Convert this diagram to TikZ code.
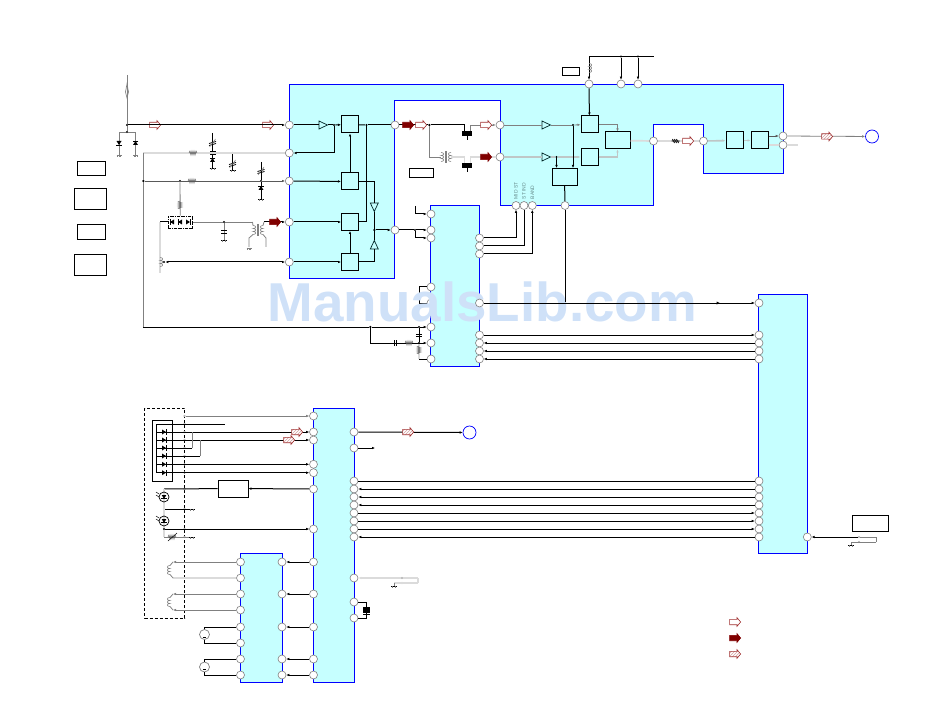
\documentclass[tikz,border=0pt]{standalone}
\usepackage{fontspec}
\setmainfont{Liberation Sans}
\usetikzlibrary{arrows.meta,shapes.geometric,shapes.arrows,patterns}
\definecolor{icfill}{HTML}{C6FFFF}
\definecolor{markfill}{HTML}{CFE1F8}
\definecolor{sigred}{HTML}{A03030}
\definecolor{darkred}{HTML}{800000}
\tikzset{
  chip/.style={draw=blue,fill=icfill,line width=1pt},
  pin/.style={circle,draw=gray,fill=white,line width=.6pt,minimum size=8pt,inner sep=0pt},
  ring/.style={circle,draw=blue,fill=white,line width=.7pt,minimum size=13pt,inner sep=0pt},
  blk/.style={draw=black,fill=icfill,line width=1pt,minimum width=17pt,minimum height=17pt,inner sep=0pt},
  wideblk/.style={blk,minimum width=25pt},
  lbl/.style={draw=black,fill=white,line width=.8pt,inner sep=0pt},
  jn/.style={circle,fill=black,minimum size=2.4pt,inner sep=0pt},
  tap/.style={circle,draw=gray,fill=white,line width=.3pt,minimum size=2pt,inner sep=0pt},
  tri/.style={isosceles triangle,isosceles triangle stretches,draw=black!70!teal,fill=icfill,line width=.7pt,
    minimum width=8pt,minimum height=8.5pt,inner sep=0pt},
  wline/.style={draw=black,line width=1pt},
  gline/.style={draw=gray,line width=.8pt},
  dline/.style={draw=black!65,line width=.9pt},
  lline/.style={draw=black!14,line width=1.7pt},
  pline/.style={draw=teal!25!black!25,line width=1.6pt},
  hollow/.style={single arrow,draw=sigred,fill=white,line width=.6pt,minimum height=11pt,minimum width=8pt,
    single arrow head extend=1.6pt,single arrow tip angle=100,inner xsep=0pt,inner ysep=2.4pt},
  solidarrow/.style={hollow,draw=darkred,fill=darkred},
  hatched/.style={hollow,preaction={fill=white},fill=none,pattern=north east lines,pattern color=sigred!45},
  pintext/.style={rotate=90,anchor=west,inner sep=0pt,font=\fontsize{5}{5}\selectfont,text=teal!50!black!60},
  res/.pic={\draw[black!65,line width=.5pt] (-4,0) -- (-3,-2) -- (-2,2) -- (-1,-2) -- (0,2) -- (1,-2) -- (2,2) -- (3,-2) -- (4,0);},
  hash/.pic={\draw[black,line width=.7pt] (-3,-2) -- (-1,2) (-1,-2) -- (1,2) (1,-2) -- (3,2) (-4,0) -- (4,0);},
  diode/.pic={\fill[black] (-2.5,-2) -- (2.5,-2) -- (0,2) -- cycle;\draw[black,line width=.8pt] (-2.8,2) -- (2.8,2);},
  gnd/.pic={\draw[gray,line width=.5pt] (-2.5,0) -- (2.5,0) (-1.5,0) -- (-1.5,2) (0,0) -- (0,2) (1.5,0) -- (1.5,2);},
  gndb/.pic={\draw[black,line width=.7pt] (-3,0) -- (3,0);\draw[gray,line width=.5pt] (-1.5,0) -- (-1.5,2) (1.5,0) -- (1.5,2);},
  cap/.pic={\draw[black,line width=.8pt] (-3,-1.1) -- (3,-1.1) (-3,1.1) -- (3,1.1);},
  trim/.pic={\draw[black,line width=.8pt] (-3.5,.5) -- (3.5,-1.5) (-3.5,2.5) -- (3.5,.5);\draw[gray,line width=.5pt] (-3,4) -- (3,-4) -- (2,-2);},
  coil/.pic={\draw[gray,line width=.6pt] (0,-4.5) .. controls (3.5,-4.5) and (3.5,-1.5) .. (0,-1.5)
    .. controls (3.5,-1.5) and (3.5,1.5) .. (0,1.5) .. controls (3.5,1.5) and (3.5,4.5) .. (0,4.5);},
  tran/.pic={\pic at (-5,0) {coil};\pic[xscale=-1] at (5,0) {coil};
    \draw[gray,line width=.5pt] (-.7,-6) -- (-.7,6) (.7,-6) -- (.7,6);},
  fet/.pic={\fill[black] (-5,-2.5) rectangle (5,2.5);\draw[black,line width=.7pt] (0,2.5) -- (0,7);},
  led/.pic={\draw[black,line width=.7pt] (0,0) circle (5);\pic[scale=.9] at (0,0) {diode};
    \draw[black,line width=.5pt] (-8,-5) -- (-5,-3) (-8,-2) -- (-5,0);},
  ant/.pic={\draw[gray,line width=.7pt] (-1.5,0) -- (0,-8) -- (1.5,0) -- (0,6) -- cycle;},
  tiptri/.pic={\fill[black] (-1.5,-1.5) -- (1.5,0) -- (-1.5,1.5) -- cycle;},
}
\begin{document}
\begin{tikzpicture}[x=1pt,y=-1pt,>={Latex[length=3pt,width=2.6pt]}]
  \useasboundingbox (0,0) rectangle (950,711);
  \draw[chip] (289.3,84.3) -- (783.3,84.3) -- (783.3,173.3) -- (703.3,173.3) -- (703.3,124.3) -- (653.3,124.3) -- (653.3,205.3)
    -- (500.3,205.3) -- (500.3,100.3) -- (394.3,100.3) -- (394.3,278.3) -- (289.3,278.3) -- cycle;
  \draw[chip] (430.3,205.3) rectangle (479.3,366);
  \draw[chip] (758.3,294) rectangle (807.3,553.3);
  \draw[chip] (313.3,408.3) rectangle (354.3,682.3);
  \draw[chip] (240.3,553.3) rectangle (282.7,682.3);
  \draw[black,line width=.8pt,densely dashed] (144.5,408) rectangle (184.5,618);
  \node[lbl,minimum width=28pt,minimum height=14pt] (note1) at (91,168) {};
  \node[lbl,minimum width=32pt,minimum height=21pt] (note2) at (90,198.5) {};
  \node[lbl,minimum width=28pt,minimum height=15pt] (note3) at (91,231.5) {};
  \node[lbl,minimum width=32pt,minimum height=21pt] (note4) at (90,264.5) {};
  \node[lbl,minimum width=17.5pt,minimum height=8pt] (note5) at (571,71) {};
  \node[lbl,minimum width=24pt,minimum height=9pt] (note6) at (421,172.5) {};
  \node[lbl,minimum width=36pt,minimum height=16pt] (note7) at (870,523) {};
  \node[lbl,minimum width=30pt,minimum height=17pt] (drv) at (233,488.5) {};
  \node[draw=black,line width=.8pt,minimum width=20pt,minimum height=60.5pt,inner sep=0pt] (sw) at (162.5,450.7) {};
  \node[draw=black,densely dashdotted,line width=.7pt,minimum width=24pt,minimum height=12pt,inner sep=0pt] (dbox) at (180.3,222) {};
  \node[pin] (a1) at (289.3,125) {};
  \node[pin] (a2) at (289.3,153) {};
  \node[pin] (a3) at (289.3,181) {};
  \node[pin] (a4) at (289.3,222) {};
  \node[pin] (a5) at (289.3,262) {};
  \node[pin] (a6) at (395,125) {};
  \node[pin] (a7) at (395,230) {};
  \node[pin] (a8) at (500,125) {};
  \node[pin] (a9) at (500,157) {};
  \node[pin] (a10) at (589,84) {};
  \node[pin] (a11) at (621,84) {};
  \node[pin] (a12) at (638,84) {};
  \node[pin] (a13) at (516,205.5) {};
  \node[pin] (a14) at (524,205.5) {};
  \node[pin] (a15) at (532.3,205.5) {};
  \node[pin] (a16) at (565,205.5) {};
  \node[pin] (a17) at (653.5,141) {};
  \node[pin] (a18) at (703.5,141) {};
  \node[pin] (a19) at (783,136) {};
  \node[pin] (a20) at (783,145) {};
  \node[pin] (b1) at (431,214) {};
  \node[pin] (b2) at (431,230) {};
  \node[pin] (b3) at (431,238) {};
  \node[pin] (b5) at (431,303) {};
  \node[pin] (b6) at (431,327) {};
  \node[pin] (b7) at (431,343) {};
  \node[pin] (b8) at (431,359) {};
  \node[pin] (b9) at (479.5,238) {};
  \node[pin] (b10) at (479.5,246) {};
  \node[pin] (b11) at (479.5,254) {};
  \node[pin] (b13) at (479.5,335) {};
  \node[pin] (b14) at (479.5,343) {};
  \node[pin] (b15) at (479.5,351) {};
  \node[pin] (b16) at (479.5,359) {};
  \node[pin] (c1) at (759,303) {};
  \node[pin] (c2) at (759,335) {};
  \node[pin] (c3) at (759,343) {};
  \node[pin] (c4) at (759,351) {};
  \node[pin] (c5) at (759,359) {};
  \node[pin] (c6) at (759,481) {};
  \node[pin] (c7) at (759,489) {};
  \node[pin] (c8) at (759,497) {};
  \node[pin] (c9) at (759,505) {};
  \node[pin] (c10) at (759,513) {};
  \node[pin] (c11) at (759,521) {};
  \node[pin] (c12) at (759,529) {};
  \node[pin] (c13) at (759,537) {};
  \node[pin] (c14) at (807.3,537) {};
  \node[pin] (d1) at (313.5,416) {};
  \node[pin] (d2) at (313.5,432) {};
  \node[pin] (d3) at (313.5,440) {};
  \node[pin] (d4) at (313.5,464.3) {};
  \node[pin] (d5) at (313.5,472.7) {};
  \node[pin] (d6) at (313.5,489) {};
  \node[pin] (d7) at (313.5,529) {};
  \node[pin] (d8) at (313.5,562) {};
  \node[pin] (d9) at (313.5,594) {};
  \node[pin] (d10) at (313.5,627) {};
  \node[pin] (d11) at (313.5,659) {};
  \node[pin] (d12) at (313.5,675) {};
  \node[pin] (d13) at (354,432) {};
  \node[pin] (d14) at (354,448) {};
  \node[pin] (d15) at (354,481) {};
  \node[pin] (d16) at (354,489) {};
  \node[pin] (d17) at (354,497) {};
  \node[pin] (d18) at (354,505) {};
  \node[pin] (d19) at (354,513) {};
  \node[pin] (d20) at (354,521) {};
  \node[pin] (d21) at (354,529) {};
  \node[pin] (d22) at (354,537) {};
  \node[pin] (d23) at (354,578) {};
  \node[pin] (d24) at (354,602) {};
  \node[pin] (d25) at (354,618) {};
  \node[pin] (e1) at (240.5,562) {};
  \node[pin] (e2) at (240.5,578) {};
  \node[pin] (e3) at (240.5,594) {};
  \node[pin] (e4) at (240.5,610) {};
  \node[pin] (e5) at (240.5,627) {};
  \node[pin] (e6) at (240.5,643) {};
  \node[pin] (e7) at (240.5,659) {};
  \node[pin] (e8) at (240.5,675) {};
  \node[pin] (e9) at (282,562) {};
  \node[pin] (e10) at (282,594) {};
  \node[pin] (e11) at (282,627) {};
  \node[pin] (e12) at (282,659) {};
  \node[pin] (e13) at (282,675) {};
  \node[ring] (out1) at (872,136.5) {};
  \node[ring] (out2) at (469.5,432.5) {};
  \node[blk] (m1) at (350,124.5) {};
  \node[blk] (m2) at (350,181.5) {};
  \node[blk] (m3) at (350,222) {};
  \node[blk] (m4) at (350,262) {};
  \node[blk] (m5) at (589.5,124.5) {};
  \node[blk] (m6) at (589.5,157) {};
  \node[wideblk] (m7) at (564.5,177) {};
  \node[wideblk] (m8) at (617.5,140.5) {};
  \node[blk] (m9) at (734.5,140.5) {};
  \node[blk] (m10) at (759.5,140.5) {};
  \node[tri] (t1) at (321.5,125) {};
  \node[tri,shape border rotate=-90] (t2) at (374.3,205.5) {};
  \node[tri,shape border rotate=90] (t3) at (374.3,246.5) {};
  \node[tri] (t4) at (544.5,125) {};
  \node[tri] (t5) at (544.5,157) {};
  \node[circle,draw=gray,fill=white,line width=.7pt,minimum size=10pt,inner sep=0pt] (lamp1) at (204.5,634.5) {};
  \node[circle,draw=gray,fill=white,line width=.7pt,minimum size=10pt,inner sep=0pt] (lamp2) at (204.5,667) {};
  \node[fill=black,minimum width=7pt,minimum height=5pt,inner sep=0pt] (xtal) at (366.5,610.5) {};
  \node[jn] (j1) at (127,125) {};
  \node[jn] (j2) at (127,132) {};
  \node[jn] (j3) at (143.3,181) {};
  \node[jn] (j4) at (212.5,153) {};
  \node[jn] (j5) at (232.5,153) {};
  \node[jn] (j6) at (180,181) {};
  \node[jn] (j7) at (261,181) {};
  \node[jn] (j8) at (224,222) {};
  \node[jn] (j9) at (164,262) {};
  \node[jn] (k1) at (334,125) {};
  \node[jn] (k2) at (366.5,125) {};
  \node[jn] (k3) at (374.3,230) {};
  \node[jn] (k4) at (429.3,125) {};
  \node[jn] (k5) at (573,125) {};
  \node[jn] (k6) at (556.5,157) {};
  \node[jn] (k7) at (565,303) {};
  \node[jn] (k8) at (621,56.5) {};
  \node[jn] (k9) at (638,56.5) {};
  \node[jn] (k10) at (415,230) {};
  \node[jn] (k11) at (370.3,327) {};
  \node[jn] (k12) at (419,327) {};
  \node[jn] (k13) at (419,343) {};
  \node[jn] (k14) at (164,509) {};
  \node[jn] (k15) at (164,529) {};
  \node[tap] (s1) at (184.5,416) {};
  \node[tap] (s2) at (184.5,424) {};
  \node[tap] (s3) at (184.5,432) {};
  \node[tap] (s4) at (184.5,440) {};
  \node[tap] (s5) at (184.5,448) {};
  \node[tap] (s6) at (184.5,456) {};
  \node[tap] (s7) at (184.5,464.3) {};
  \node[tap] (s8) at (184.5,472.7) {};
  \node[tap] (s9) at (184.5,489) {};
  \node[tap] (s10) at (184.5,509) {};
  \node[tap] (s11) at (184.5,529) {};
  \node[tap] (s12) at (184.5,537) {};
  \node[tap] (s13) at (402,578) {};
  \node[tap] (s14) at (402,583) {};
  \node[tap] (s15) at (859,537) {};
  \node[tap] (s16) at (859,542) {};
  \coordinate (anttop) at (127,75);
  \coordinate (q1) at (119,155);
  \coordinate (q2) at (135.5,155);
  \coordinate (q3) at (143.3,153);
  \coordinate (q4) at (143.3,327);
  \coordinate (q5) at (212.5,133);
  \coordinate (q6) at (212.5,168);
  \coordinate (q7) at (232.5,170);
  \coordinate (q8) at (261,162);
  \coordinate (q9) at (261,199);
  \coordinate (q10) at (160,222);
  \coordinate (q11) at (160,273);
  \coordinate (q13) at (224,240);
  \coordinate (q14) at (252.5,222);
  \coordinate (q15) at (264,222);
  \coordinate (q16) at (464.5,131);
  \coordinate (q17) at (470.5,131);
  \coordinate (q18) at (464.5,163);
  \coordinate (q19) at (470.5,163);
  \coordinate (q20) at (441,157);
  \coordinate (q21) at (451,157);
  \coordinate (q22) at (589,56.5);
  \coordinate (q23) at (654,56.5);
  \coordinate (q24) at (798,145);
  \coordinate (q25) at (415,206);
  \coordinate (q26) at (419,287);
  \coordinate (q27) at (419,303);
  \coordinate (q28) at (419,359);
  \coordinate (q29) at (225,424);
  \coordinate (q30) at (156,424);
  \coordinate (q31) at (156,472.7);
  \coordinate (q32) at (156,432);
  \coordinate (q33) at (156,440);
  \coordinate (q34) at (156,448);
  \coordinate (q35) at (156,456);
  \coordinate (q36) at (156,464.3);
  \coordinate (q37) at (192,432);
  \coordinate (q38) at (192,448);
  \coordinate (q39) at (200,440);
  \coordinate (q40) at (200,456);
  \coordinate (q41) at (164,489);
  \coordinate (q42) at (192,509);
  \coordinate (q43) at (164,537);
  \coordinate (q44) at (192,537);
  \coordinate (q45) at (173,562);
  \coordinate (q46) at (173,578);
  \coordinate (q47) at (173,594);
  \coordinate (q48) at (173,610);
  \coordinate (q49) at (375,448);
  \coordinate (q50) at (418,578);
  \coordinate (q51) at (418,583);
  \coordinate (q52) at (394,583);
  \coordinate (q53) at (394,586);
  \coordinate (q54) at (876,537);
  \coordinate (q55) at (876,542);
  \coordinate (q56) at (851,542);
  \coordinate (q57) at (851,545);
  \node[hollow] (sig1) at (154,125) {};
  \node[hollow] (sig2) at (267,125) {};
  \path (anttop) edge[gline] (j1);
  \path (j1) edge[gline] (j2);
  \draw[gline] (j2) -| (q1);
  \draw[gline] (j2) -| (q2);
  \path (j1) edge[wline,->] (a1);
  \path (a2) edge[lline] (q3);
  \path (q3) edge[gline] (j3);
  \path (j3) edge[gline] (q4);
  \path (q5) edge[wline] (j4);
  \path (j4) edge[wline] (q6);
  \path (j5) edge[wline] (q7);
  \path (q8) edge[wline] (j7);
  \path (j7) edge[wline] (q9);
  \path (j3) edge[dline,->] (a3);
  \path (j6) edge[gline] (dbox);
  \path (dbox) edge[wline] (q10);
  \path (q10) edge[lline] (q11);
  \path (dbox) edge[gline] (j8);
  \path (j8) edge[gline] (q14);
  \path (j8) edge[gline] (q13);
  \path (q15) edge[wline,->] (a4);
  \path (j9) edge[wline,<->] (a5);
  \path (a1) edge[wline] (t1);
  \path (t1) edge[wline] (k1);
  \path (k1) edge[wline,->] (m1);
  \draw[wline,->] (k1) |- (a2);
  \path (m1) edge[wline] (k2);
  \path (k2) edge[wline] (a6);
  \draw[wline] (k2) |- (m3);
  \path (m2) edge[wline,->] (m1);
  \path (a3) edge[wline,->] (m2);
  \path (a4) edge[wline,->] (m3);
  \path (a5) edge[wline,->] (m4);
  \draw[wline] (m2) -| (t2);
  \path (t2) edge[wline] (k3);
  \path (t3) edge[wline] (k3);
  \draw[wline] (m4) -| (t3);
  \path (m4) edge[wline,->] (m3);
  \path (k3) edge[wline,->] (a7);
  \path (a6) edge[wline] (k4);
  \draw[wline] (k4) -| (q16);
  \draw[gline,->] (q17) |- (a8);
  \draw[gline] (k4) |- (q20);
  \path (q21) edge[lline] (q18 |- q21);
  \draw[lline] (q18 |- q21) -- (q18);
  \draw[lline] (q19) |- (a9);
  \path (a8) edge[gline] (t4);
  \path (t4) edge[gline] (k5);
  \path (k5) edge[gline,->] (m5);
  \path (a9) edge[pline] (t5);
  \path (t5) edge[pline] (k6);
  \path (k6) edge[pline,->] (m6);
  \path (k5) edge[wline,->] (k5 |- m7.north);
  \path (k6) edge[wline,->] (k6 |- m7.north);
  \draw[gline,->] (m5) -| (m8);
  \draw[pline,->] (m6) -| (m8);
  \path (m8) edge[lline] (a17);
  \path (a17) edge[lline] (a18);
  \path (a18) edge[pline,->] (m9);
  \path (m9) edge[pline,->] (m10);
  \path (m10.east |- a19) edge[dline,->] (a19);
  \path (m10.east |- a20) edge[lline] (a20);
  \path (a19) edge[gline,->] (out1);
  \path (a20) edge[lline] (q24);
  \path (m7) edge[wline] (a16);
  \path (q22) edge[wline,->] (a10);
  \path (q22) edge[wline] (q23);
  \path (k8) edge[wline,->] (a11);
  \path (k9) edge[wline,->] (a12);
  \path (a10) edge[wline,->] (m5);
  \path (a7) edge[wline] (k10);
  \path (k10) edge[wline,->] (b2);
  \draw[wline,->] (k10) |- (b3);
  \draw[wline,->] (q25) |- (b1);
  \path (q26) edge[wline] (q27);
  \path (q27) edge[wline] (b5);
  \draw[wline,->] (b9) -| (a13);
  \draw[wline] (b10) -| (a14);
  \draw[wline,->] (b11) -| (a15);
  \path (q4) edge[wline] (k11);
  \path (k11) edge[wline] (k12);
  \path (k12) edge[wline,->] (b6);
  \draw[wline,->] (k11) |- (b7);
  \path (k12) edge[wline] (k13);
  \path (k13) edge[lline] (q28);
  \path (q28) edge[wline] (b8);
  \path (b13) edge[wline,->] (c2);
  \path (b14) edge[wline,<-] (c3);
  \path (b15) edge[wline,<-] (c4);
  \path (b16) edge[wline,<-] (c5);
  \path (d15) edge[wline] (c6);
  \path (d16) edge[wline,<-] (c7);
  \path (d17) edge[wline,<-] (c8);
  \path (d18) edge[wline,<-] (c9);
  \path (d19) edge[wline,->] (c10);
  \path (d20) edge[wline,->] (c11);
  \path (d21) edge[wline,->] (c12);
  \path (d22) edge[wline,<-] (c13);
  \path (c14) edge[wline,<-] (s15);
  \path (s15) edge[gline] (q54);
  \path (q54) edge[gline] (q55);
  \path (q55) edge[gline] (q56);
  \path (q56) edge[gline] (q57);
  \path (d13) edge[wline,->] (out2);
  \path (d14) edge[wline,->] (q49);
  \path (d23) edge[lline,<-] (s13);
  \path (s13) edge[lline] (q50);
  \path (q50) edge[lline] (q51);
  \path (q51) edge[lline] (q52);
  \path (q52) edge[gline] (q53);
  \draw[wline] (d24) -| (xtal);
  \draw[wline] (d25) -| (xtal);
  \path (s1) edge[gline,->] (d1);
  \path (q30) edge[wline] (q29);
  \path (q30) edge[wline] (q31);
  \path (q32) edge[wline,->] (d2);
  \path (q33) edge[wline,->] (d3);
  \path (q34) edge[wline] (q38);
  \path (q38) edge[gline] (q37);
  \path (q35) edge[wline] (q40);
  \path (q40) edge[gline] (q39);
  \path (q36) edge[wline,->] (d4);
  \path (q31) edge[wline,->] (d5);
  \path (q41) edge[wline] (drv);
  \path (drv) edge[wline,<-] (d6);
  \path (q41) edge[lline] (k15);
  \path (k14) edge[wline] (q42);
  \path (k15) edge[wline,->] (d7);
  \path (k15) edge[lline] (q43);
  \path (q43) edge[gline] (q44);
  \path (q45) edge[gline,<-] (e1);
  \path (q46) edge[lline] (e2);
  \path (q47) edge[gline,<-] (e3);
  \path (q48) edge[gline,<-] (e4);
  \draw[wline] (lamp1) |- (e5);
  \draw[wline] (lamp1) |- (e6);
  \draw[wline] (lamp2) |- (e7);
  \draw[wline] (lamp2) |- (e8);
  \path (e9) edge[wline,<-] (d8);
  \path (e10) edge[wline,<-] (d9);
  \path (e11) edge[wline,<-] (d10);
  \path (e12) edge[wline,<-] (d11);
  \path (e13) edge[wline,<-] (d12);
  \pic at (127,92) {ant};
  \pic at (119,143) {diode};
  \pic[rotate=180] at (135.5,143) {diode};
  \pic at (119,155) {gnd};
  \pic at (135.5,155) {gnd};
  \pic at (193,153) {res};
  \pic at (192,181) {res};
  \pic[rotate=90] at (180,205) {res};
  \pic at (212.5,143) {trim};
  \pic[rotate=180] at (212.5,160) {diode};
  \pic[rotate=180] at (212.5,153) {cap};
  \pic at (212.5,168) {gndb};
  \pic at (232.5,164) {trim};
  \pic at (232.5,170) {gndb};
  \pic at (261,171) {trim};
  \pic[rotate=180] at (261,188) {diode};
  \pic at (261,199) {gndb};
  \pic[rotate=-90] at (172,222) {diode};
  \pic[rotate=-90] at (180,222) {diode};
  \pic[rotate=90] at (188,222) {diode};
  \pic at (224,232) {cap};
  \pic at (224,240) {gndb};
  \pic at (258,230) {tran};
  \draw[gline] (q14) -- (253,225.5);
  \draw[gline] (q15) -- (263,225.5);
  \draw[gline] (253,234.5) -- (249,238) -- (249,247);
  \draw[gline] (263,234.5) -- (266,238) -- (266,247);
  \pic at (249,248) {gnd};
  \pic at (160,262) {coil};
  \pic at (446,157) {tran};
  \pic at (589,68) {coil};
  \pic at (467,133.5) {fet};
  \pic at (467,165.5) {fet};
  \pic at (675.5,141) {hash};
  \pic[rotate=90] at (395,343) {cap};
  \pic at (409,343) {res};
  \pic at (419,335) {cap};
  \pic[rotate=90] at (419,350) {res};
  \pic[rotate=90] at (164,432) {diode};
  \pic[rotate=90] at (164,440) {diode};
  \pic[rotate=90] at (164,448) {diode};
  \pic[rotate=90] at (164,456) {diode};
  \pic[rotate=90] at (164,464.3) {diode};
  \pic[rotate=90] at (164,472.7) {diode};
  \pic at (164,497) {led};
  \pic at (164,521) {led};
  \pic at (172,537) {res};
  \draw[black,line width=.5pt] (168,541) -- (177,533);
  \pic at (192,509) {gndb};
  \pic at (192,537) {gndb};
  \pic at (394,586) {gndb};
  \pic at (851,545) {gndb};
  \pic[xscale=-1] at (170,570) {coil};
  \pic[xscale=-1] at (170,602) {coil};
  \draw[gline] (q45) -- (170,565.5);
  \draw[gline] (q46) -- (170,574.5);
  \draw[gline] (q47) -- (170,597.5);
  \draw[gline] (q48) -- (170,606.5);
  \draw[black,line width=.7pt] (203,637) -- (206,637) (203,669.5) -- (206,669.5);
  \draw[black,line width=.7pt] (363,607) -- (370,607) (363,614) -- (370,614);
  \pic at (718,303) {tiptri};
  \node[hollow] (sig3) at (420,125) {};
  \node[hollow] (sig4) at (485,125) {};
  \node[hollow] (sig5) at (687,141) {};
  \node[solidarrow] (sig6) at (274,222) {};
  \node[solidarrow] (sig7) at (407,125) {};
  \node[solidarrow] (sig8) at (485,157) {};
  \node[hatched] (sig9) at (296,432) {};
  \node[hatched] (sig10) at (288,440) {};
  \node[hatched] (sig11) at (407,432) {};
  \node[hatched] (sig12) at (826,136.5) {};
  \node[hollow] (key1) at (734,622) {};
  \node[solidarrow] (key2) at (734,638) {};
  \node[hatched] (key3) at (734,654) {};
  \node[pintext] (lab1) at (516,199.5) {MID ST};
  \node[pintext] (lab2) at (524,199.5) {ST IND};
  \node[pintext] (lab3) at (532.3,199.5) {BAND};
  \node[anchor=base west,inner sep=0pt,text=markfill,font=\fontsize{54.8}{54.8}\selectfont\bfseries] (mark) at (267.5,321) {ManualsLib.com};
  \node[pin] (b4) at (431,287) {};
  \node[pin] (b12) at (479.5,303) {};
  \path (q26) edge[wline] (b4);
  \path (b12) edge[wline,->] (c1);
  \path (a16) edge[wline] (k7);
\end{tikzpicture}
\end{document}
